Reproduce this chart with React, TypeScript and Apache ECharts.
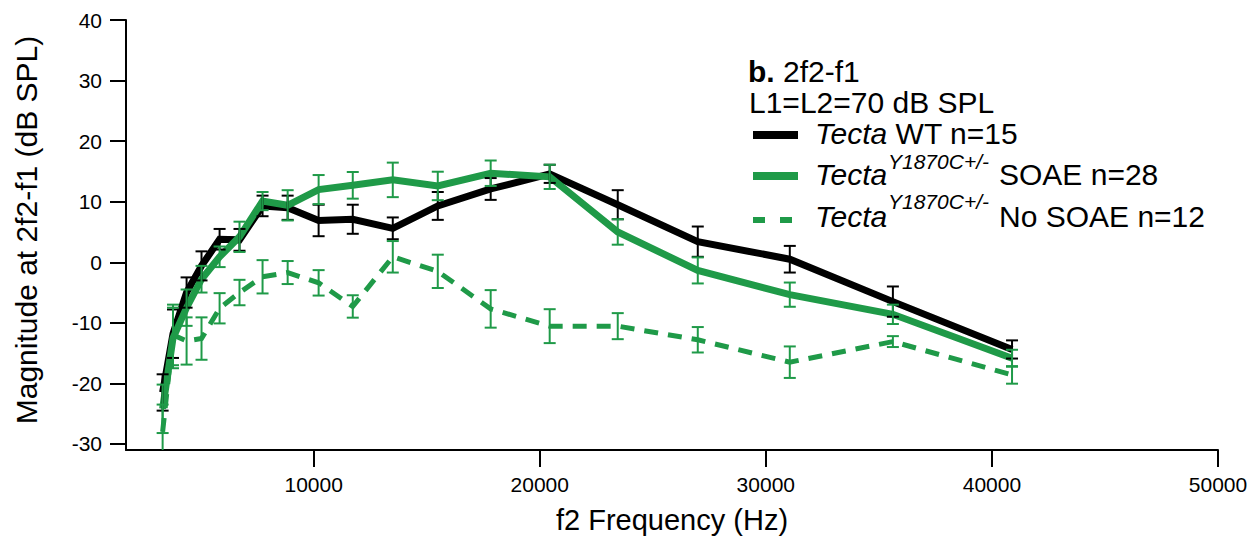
import React, { useEffect, useRef } from "react";
import * as echarts from "echarts";

const frequencies = [3320, 3780, 4380, 5040, 5840, 6720, 7740, 8850, 10220, 11730, 13500, 15490, 17830, 20440, 23450, 26990, 31060, 35620, 40890];

const wtMean = [-21.5, -11.8, -5.0, -0.6, 3.8, 3.7, 9.3, 9.0, 6.9, 7.1, 5.6, 9.3, 12.1, 14.6, 9.5, 3.4, 0.5, -6.5, -14.4];
const wtErr = [3, 4, 2.5, 2.4, 1.7, 1.8, 1.7, 2, 2.6, 2.4, 1.8, 2.3, 1.8, 1.5, 2.4, 2.5, 2.2, 2.5, 1.5];

const soaeMean = [-24.2, -12.5, -7.5, -2.8, 0.9, 4.2, 10.1, 9.4, 12.0, 12.7, 13.6, 12.6, 14.7, 14.1, 5.0, -1.35, -5.35, -8.6, -15.85];
const soaeErr = [4, 5, 3, 2.2, 1.7, 2.5, 1.5, 2.5, 2.4, 2.2, 2.85, 2.35, 2.1, 2, 2.1, 2.15, 2, 1.6, 1.4];

const noSoaeMean = [-28, -12, -13, -12.6, -7.6, -5, -2.4, -1.7, -3.4, -7.3, 0.9, -1.5, -7.7, -10.55, -10.55, -12.8, -16.5, -13.1, -18.6];
const noSoaeErr = [4.5, 5, 3.9, 3.5, 2.5, 2.1, 2.75, 1.9, 2.1, 1.85, 2.6, 2.75, 3.1, 2.8, 2.15, 2.1, 2.6, 0.9, 1.45];

const xTicks = [10000, 20000, 30000, 40000, 50000];
const yTicks = [-30, -20, -10, 0, 10, 20, 30, 40];

const BLACK = "#000000";
const GREEN = "#1f9a48";
const FONT = "'Liberation Sans', Arial, Helvetica, sans-serif";
const LEG = 30;

function errSeries(mean: number[], err: number[], color: string, width: number) {
  return {
    type: "custom",
    silent: true,
    clip: true,
    z: 5,
    data: frequencies.map((f, i) => [f, mean[i] - err[i], mean[i] + err[i]]),
    encode: { x: 0, y: [1, 2] },
    renderItem: (_p: any, api: any) => {
      const lo = api.coord([api.value(0), api.value(1)]);
      const hi = api.coord([api.value(0), api.value(2)]);
      const hw = 6;
      const style = { stroke: color, lineWidth: width };
      return {
        type: "group",
        children: [
          { type: "line", shape: { x1: lo[0], y1: lo[1], x2: hi[0], y2: hi[1] }, style },
          { type: "line", shape: { x1: lo[0] - hw, y1: lo[1], x2: lo[0] + hw, y2: lo[1] }, style },
          { type: "line", shape: { x1: hi[0] - hw, y1: hi[1], x2: hi[0] + hw, y2: hi[1] }, style },
        ],
      };
    },
  };
}

function lineSeries(name: string, mean: number[], color: string, width: number, dash?: number[]) {
  return {
    name,
    type: "line",
    data: frequencies.map((f, i) => [f, mean[i]]),
    showSymbol: false,
    silent: true,
    z: 3,
    lineStyle: { color, width, type: dash ? dash : "solid", cap: "butt", join: "miter" },
  };
}

export default function App() {
  const ref = useRef<HTMLDivElement>(null);
  useEffect(() => {
    const chart = echarts.init(ref.current!, null, { renderer: "svg" });
    const txt = (text: string, x: number, y: number, size: number, italic = false, extra: any = {}) => ({
      type: "text",
      x,
      y,
      silent: true,
      style: {
        text,
        fontSize: size,
        fontFamily: FONT,
        fontStyle: italic ? "italic" : "normal",
        fill: "#000",
        textAlign: "left",
        textVerticalAlign: "middle",
        ...extra,
      },
    });
    chart.setOption({
      animation: false,
      backgroundColor: "#ffffff",
      grid: { left: 126, right: 41, top: 20, bottom: 91, containLabel: false },
      xAxis: {
        type: "value",
        min: 1700,
        max: 50000,
        name: "f2 Frequency (Hz)",
        nameLocation: "middle",
        nameGap: 55,
        nameTextStyle: { fontSize: 29, fontFamily: FONT, color: "#000" },
        axisLine: { show: true, onZero: false, lineStyle: { color: "#000", width: 2 } },
        axisTick: { show: true, length: 17, customValues: xTicks, lineStyle: { color: "#000", width: 2 } },
        axisLabel: {
          customValues: xTicks,
          fontSize: 21,
          fontFamily: FONT,
          color: "#000",
          margin: 24,
          formatter: (v: number) => String(v),
        },
        splitLine: { show: false },
      },
      yAxis: {
        type: "value",
        min: -31,
        max: 40,
        axisLine: { show: true, onZero: false, lineStyle: { color: "#000", width: 2 } },
        axisTick: { show: true, length: 16, customValues: yTicks, lineStyle: { color: "#000", width: 2 } },
        axisLabel: {
          customValues: yTicks,
          fontSize: 21,
          fontFamily: FONT,
          color: "#000",
          margin: 24,
          formatter: (v: number) => String(v),
        },
        splitLine: { show: false },
      },
      series: [
        lineSeries("No SOAE", noSoaeMean, GREEN, 5, [14, 10]),
        lineSeries("WT", wtMean, BLACK, 7),
        lineSeries("SOAE", soaeMean, GREEN, 7),
        errSeries(wtMean, wtErr, BLACK, 2),
        errSeries(soaeMean, soaeErr, GREEN, 2),
        errSeries(noSoaeMean, noSoaeErr, GREEN, 2),
      ],
      graphic: [
        {
          type: "text",
          x: 26,
          y: 230,
          rotation: Math.PI / 2,
          silent: true,
          style: {
            text: "Magnitude at 2f2-f1 (dB SPL)",
            fontSize: 30,
            fontFamily: FONT,
            fill: "#000",
            textAlign: "center",
            textVerticalAlign: "middle",
          },
        },
        txt("{b|b.} 2f2-f1", 748, 71, LEG, false, {
          rich: { b: { fontWeight: "bold", fontSize: LEG, fontFamily: FONT } },
        }),
        txt("L1=L2=70 dB SPL", 749, 102, LEG),
        { type: "line", silent: true, shape: { x1: 753, y1: 135, x2: 798, y2: 135 }, style: { stroke: BLACK, lineWidth: 8 } },
        txt("{i|Tecta} WT n=15", 815, 133.5, LEG, false, {
          rich: { i: { fontStyle: "italic", fontSize: LEG, fontFamily: FONT } },
        }),
        { type: "line", silent: true, shape: { x1: 753, y1: 176, x2: 798, y2: 176 }, style: { stroke: GREEN, lineWidth: 8 } },
        txt("Tecta", 815, 174.5, LEG, true),
        txt("Y1870C+/-", 888, 161, 21, true),
        txt("SOAE n=28", 999, 174.5, LEG),
        { type: "line", silent: true, shape: { x1: 753, y1: 220, x2: 795, y2: 220 }, style: { stroke: GREEN, lineWidth: 6, lineDash: [12, 15] } },
        txt("Tecta", 815, 216, LEG, true),
        txt("Y1870C+/-", 888, 201, 21, true),
        txt("No SOAE n=12", 999, 216, LEG),
      ],
    });
    return () => chart.dispose();
  }, []);
  return <div ref={ref} style={{ position: "fixed", left: 0, top: 0, width: 1259, height: 541 }} />;
}
